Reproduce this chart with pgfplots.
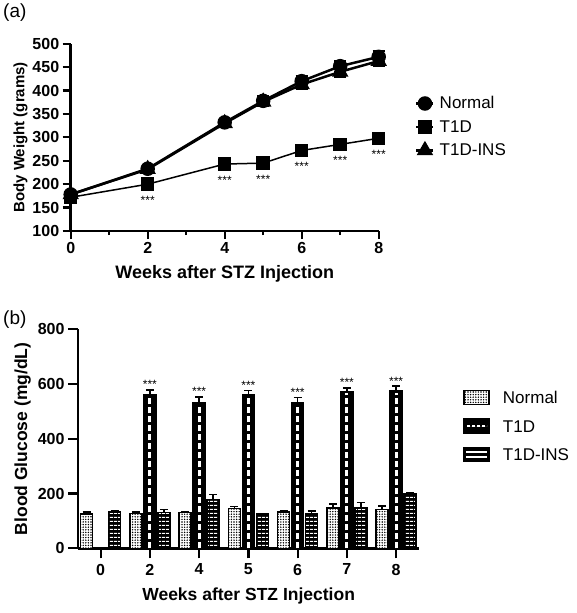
\documentclass[border=0pt]{standalone}
\usepackage{fontspec}
\setmainfont{Liberation Sans}
\usepackage{pgfplots}
\usepackage{pgfplotstable}
\pgfplotsset{compat=1.18}
\usetikzlibrary{patterns,patterns.meta}

\pgfplotstableread{
w  n   ne  i   ie  d   de
0  178 4   178 4   172 3
2  233 5   232 5   200 4
4  332 8   330 8   243 5
5  378 10  376 10  245 5
6  420 12  413 10  272 5
7  452 12  440 12  285 5
8  472 12  463 10  298 5
}\bw

\pgfplotstableread{
x  n   ne  d    de  i   ie
0  125 8   nan  0   133 4
1  128 4   562  16  130 12
2  130 4   530  23  178 19
3  145 7   562  15  125 3
4  133 4   530  20  125 11
5  148 14  571  15  148 20
6  142 12  574  18  200 4
}\bg

\tikzset{
  stars/.style={font=\fontsize{12}{12}\selectfont, inner sep=0pt},
  normalbar/.style={draw=black, line width=1.5pt, preaction={fill=white},
    pattern={Dots[distance=2.6pt, radius=0.8pt]}, pattern color=black},
  insbar/.style={draw=black, line width=1.5pt, preaction={fill=black},
    pattern={Lines[angle=0, distance=4pt, line width=1.5pt]}, pattern color=white},
}

\begin{document}
\begin{tikzpicture}
\useasboundingbox (0,0) rectangle (576pt,-613pt);
\node[anchor=north west, inner sep=0pt, font=\fontsize{19}{22}\selectfont] at (3pt,-4pt) {(a)};
\node[anchor=north west, inner sep=0pt, font=\fontsize{19}{22}\selectfont] at (3pt,-311pt) {(b)};

\begin{axis}[
  at={(70.7pt,-231pt)}, anchor=south west, scale only axis,
  width=308pt, height=187.3pt,
  xmin=0, xmax=8, ymin=100, ymax=500,
  axis lines*=left, axis line style={line width=2.5pt},
  xtick={0,2,4,6,8}, minor xtick={1,3,5,7}, ytick={100,150,...,500},
  tick align=outside, major tick length=8pt, minor tick length=4pt,
  every tick/.style={black, line width=2.2pt},
  /pgf/number format/assume math mode=true,
  ticklabel style={font=\fontsize{16}{18}\selectfont\bfseries},
  xlabel={Weeks after STZ Injection}, ylabel={Body Weight (grams)},
  xlabel style={font=\fontsize{18}{20}\selectfont\bfseries, yshift=-5pt},
  ylabel style={font=\fontsize{15}{18}\selectfont\bfseries, yshift=-2pt},
  legend style={at={(1.108,0.74)}, anchor=north west, draw=none, fill=none,
    font=\fontsize{17}{20}\selectfont, row sep=6pt, column sep=3pt},
  legend cell align=left,
  clip=false,
]
\addplot[black, line width=2.5pt, mark=*, mark size=6pt,
  error bars/.cd, y dir=both, y explicit,
  error bar style={line width=2pt},
  error mark options={rotate=90, mark size=6pt, line width=2pt}]
  table[x=w, y=n, y error=ne] {\bw};
\addlegendentry{Normal}
\addplot[black, line width=1.5pt, mark=square*, mark size=6pt,
  error bars/.cd, y dir=both, y explicit,
  error bar style={line width=1.5pt},
  error mark options={rotate=90, mark size=6pt, line width=1.5pt}]
  table[x=w, y=d, y error=de] {\bw};
\addlegendentry{T1D}
\addplot[black, line width=2.5pt, mark=triangle*, mark size=7pt,
  error bars/.cd, y dir=both, y explicit,
  error bar style={line width=2pt},
  error mark options={rotate=90, mark size=6pt, line width=2pt}]
  table[x=w, y=i, y error=ie] {\bw};
\addlegendentry{T1D-INS}
\node[stars, yshift=-16pt] at (axis cs:2,200) {***};
\node[stars, yshift=-16pt] at (axis cs:4,243) {***};
\node[stars, yshift=-16pt] at (axis cs:5,245) {***};
\node[stars, yshift=-16pt] at (axis cs:6,272) {***};
\node[stars, yshift=-16pt] at (axis cs:7,285) {***};
\node[stars, yshift=-16pt] at (axis cs:8,298) {***};
\end{axis}

\begin{axis}[
  at={(78pt,-548.3pt)}, anchor=south west, scale only axis,
  width=341.3pt, height=219pt,
  xmin=-0.46, xmax=6.47, ymin=0, ymax=800,
  axis lines*=left, axis line style={line width=2.5pt},
  xtick={0,...,6}, xticklabels={0,2,4,5,6,7,8}, ytick={0,200,...,800},
  tick align=outside, major tick length=10pt,
  every tick/.style={black, line width=2.2pt},
  /pgf/number format/assume math mode=true,
  ticklabel style={font=\fontsize{16}{19}\selectfont\bfseries},
  xticklabel style={yshift=-2pt},
  xlabel={Weeks after STZ Injection}, ylabel={Blood Glucose (mg/dL)},
  label style={font=\fontsize{17.5}{20}\selectfont\bfseries},
  xlabel style={yshift=-6pt},
  legend style={at={(1.12,0.735)}, anchor=north west, draw=none, fill=none,
    font=\fontsize{17}{20}\selectfont, row sep=11pt, column sep=11pt},
  legend cell align=left,
  clip=false,
]
\addplot[ybar, bar width=12pt, bar shift=-14pt, normalbar,
  legend image code/.code={\draw[normalbar] (0pt,-6pt) rectangle (25pt,8pt);},
  error bars/.cd, y dir=plus, y explicit,
  error bar style={line width=1.5pt, black, xshift=-14pt},
  error mark options={rotate=90, mark size=4pt, line width=1.5pt}]
  table[x=x, y=n, y error=ne] {\bg};
\addlegendentry{Normal}
\addplot[ybar, bar width=12pt, bar shift=0pt, draw=black, line width=1.5pt, fill=black,
  legend image code/.code={\fill[black] (0pt,-6pt) rectangle (25pt,8pt);
     \draw[white, line width=2.5pt, dash pattern=on 2.5pt off 2.5pt] (3pt,1pt) -- (23pt,1pt);},
  error bars/.cd, y dir=plus, y explicit,
  error bar style={line width=1.5pt, black},
  error mark options={rotate=90, mark size=4pt, line width=1.5pt}]
  table[x=x, y=d, y error=de] {\bg};
\addlegendentry{T1D}
\addplot[ybar, bar width=12pt, bar shift=14pt, insbar,
  legend image code/.code={\fill[black] (0pt,-6pt) rectangle (25pt,8pt);
     \draw[white, line width=1.8pt] (2pt,-1.5pt) -- (23pt,-1.5pt) (2pt,3.5pt) -- (23pt,3.5pt);},
  error bars/.cd, y dir=plus, y explicit,
  error bar style={line width=1.5pt, black, xshift=14pt},
  error mark options={rotate=90, mark size=4pt, line width=1.5pt}]
  table[x=x, y=i, y error=ie] {\bg};
\addlegendentry{T1D-INS}
\addplot[ycomb, white, line width=3pt, dash pattern=on 6pt off 3pt, forget plot]
  table[x=x, y expr=\thisrow{d}-5] {\bg};
\node[stars, anchor=south, yshift=1pt] at (axis cs:1,578) {***};
\node[stars, anchor=south, yshift=1pt] at (axis cs:2,553) {***};
\node[stars, anchor=south, yshift=1pt] at (axis cs:3,577) {***};
\node[stars, anchor=south, yshift=1pt] at (axis cs:4,550) {***};
\node[stars, anchor=south, yshift=1pt] at (axis cs:5,586) {***};
\node[stars, anchor=south, yshift=1pt] at (axis cs:6,592) {***};
\end{axis}
\end{tikzpicture}
\end{document}
